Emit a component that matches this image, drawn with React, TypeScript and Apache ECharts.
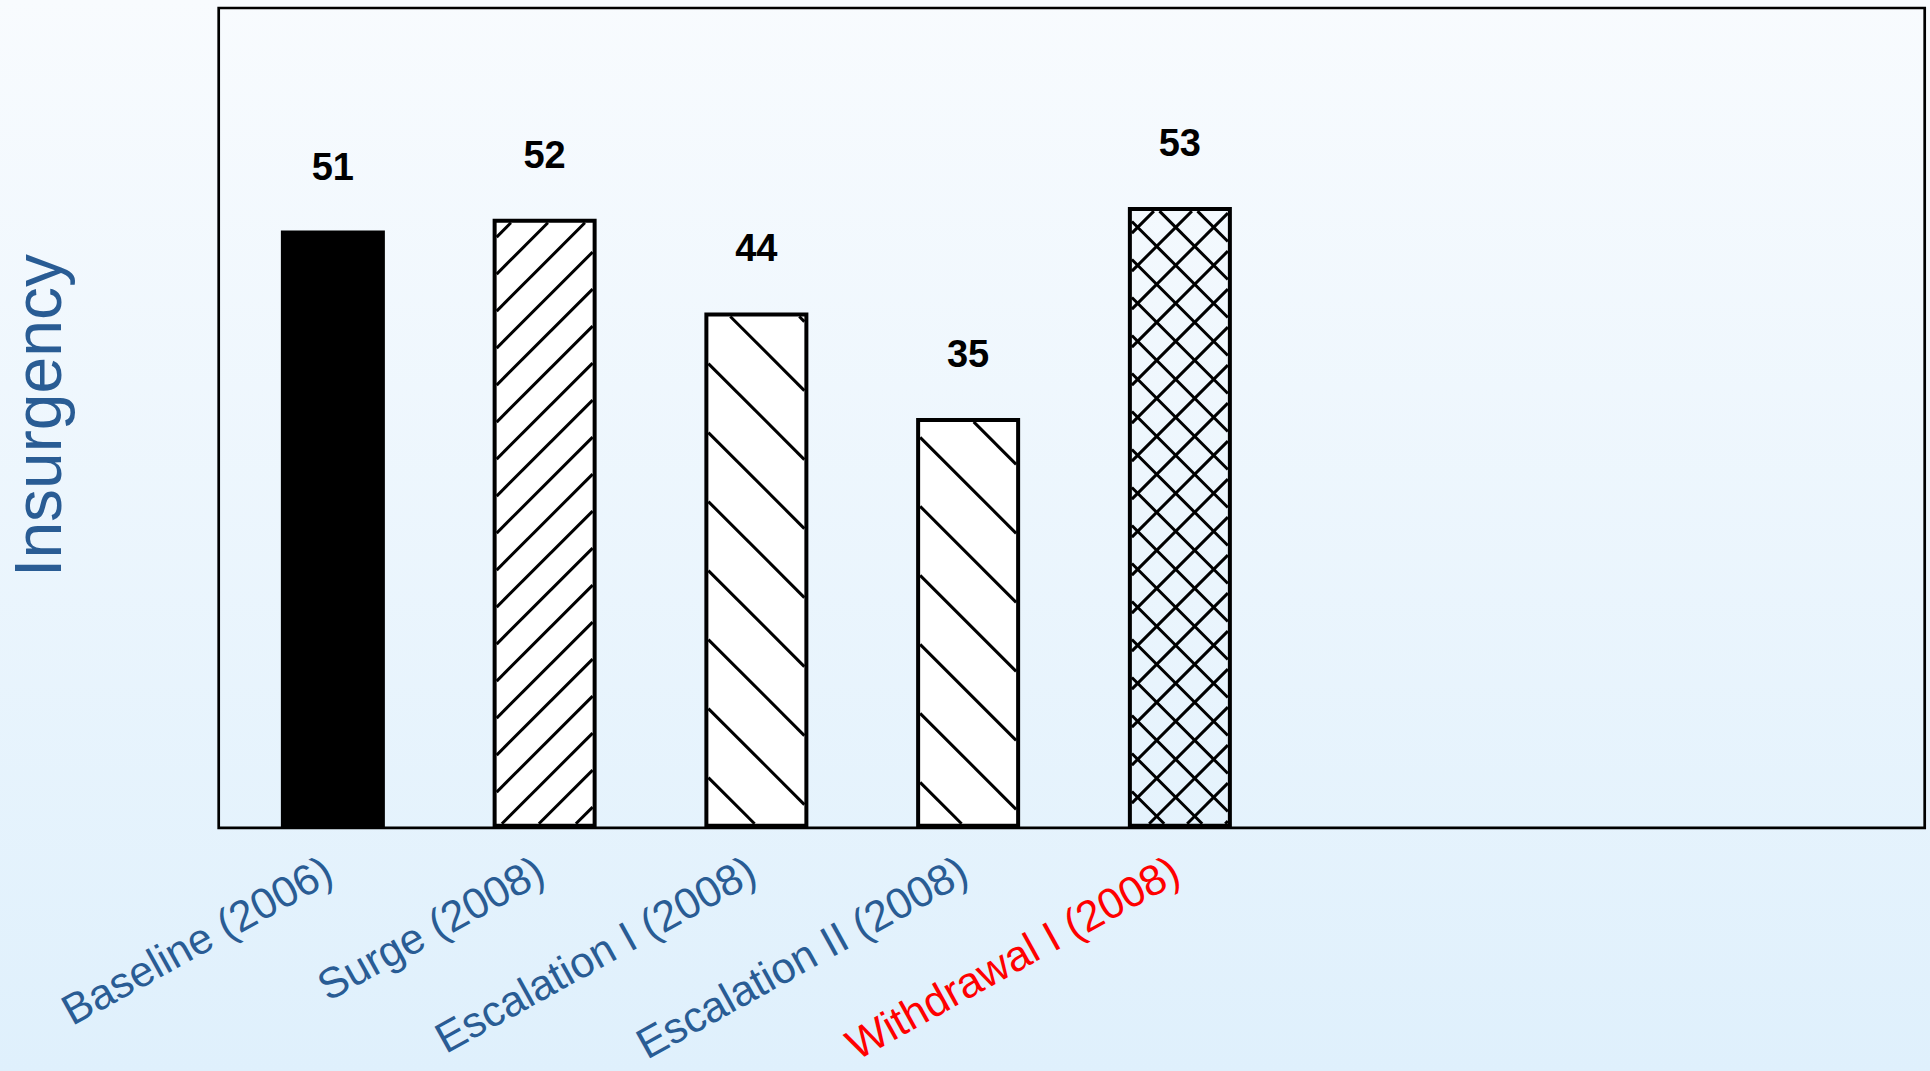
import React, { useEffect, useRef } from 'react';
import * as echarts from 'echarts';

// ---- data ----
const categories = [
  'Baseline (2006)',
  'Surge (2008)',
  'Escalation I (2008)',
  'Escalation II (2008)',
  'Withdrawal I (2008)',
  '',
  '',
  '',
];
const values = [51, 52, 44, 35, 53];
const labelColors = ['#295C94', '#295C94', '#295C94', '#295C94', '#FF0000', '#295C94', '#295C94', '#295C94'];
const barFills = ['#000000', '#FFFFFF', '#FFFFFF', '#FFFFFF', 'rgba(0,0,0,0)'];
const hatchKinds = ['none', 'fwd', 'back', 'back', 'cross'];
const yMin = 0;
const yMax = 70;
const yTitle = 'Insurgency';

// ---- styling ----
const BAR_W = 104;
const BORDER = 4;
const HATCH_W = 3;
const HATCH: Record<string, { p: number; c?: number; d?: number }> = {
  fwd: { p: 37, c: 770.7 },
  back: { p: 69, d: -344.8 },
  cross: { p: 38, c: 1555, d: -758.4 },
};
const FONT = '"Liberation Sans", Arial, Helvetica, sans-serif';

function renderHatch(params: any, api: any) {
  const i = api.value(0);
  const v = api.value(1);
  const kind = hatchKinds[i];
  if (!kind || kind === 'none') return { type: 'group', children: [] };
  const t = api.coord([i, v]);
  const b = api.coord([i, 0]);
  // ECharts insets the bar border inside the bar's outer box
  const x0 = t[0] - BAR_W / 2 + BORDER;
  const x1 = t[0] + BAR_W / 2 - BORDER;
  const y0 = t[1] + BORDER;
  const y1 = b[1] - BORDER;
  const cfg = HATCH[kind];
  const style = { stroke: '#000', lineWidth: HATCH_W, fill: null };
  const children: any[] = [];
  if (kind === 'fwd' || kind === 'cross') {
    // lines y = c - x
    const p = cfg.p;
    const c0 = cfg.c as number;
    let c = c0 + Math.floor((x0 + y0 - c0) / p) * p;
    for (; c <= x1 + y1 + p; c += p) {
      const xa = Math.max(x0, c - y1);
      const xb = Math.min(x1, c - y0);
      if (xb - xa > 0.5) {
        children.push({ type: 'line', shape: { x1: xa, y1: c - xa, x2: xb, y2: c - xb }, style });
      }
    }
  }
  if (kind === 'back' || kind === 'cross') {
    // lines y = x + d
    const p = cfg.p;
    const d0 = cfg.d as number;
    let d = d0 + Math.floor((y0 - x1 - d0) / p) * p;
    for (; d <= y1 - x0 + p; d += p) {
      const xa = Math.max(x0, y0 - d);
      const xb = Math.min(x1, y1 - d);
      if (xb - xa > 0.5) {
        children.push({ type: 'line', shape: { x1: xa, y1: xa + d, x2: xb, y2: xb + d }, style });
      }
    }
  }
  return { type: 'group', children };
}

export default function App() {
  const ref = useRef<HTMLDivElement>(null);
  useEffect(() => {
    if (!ref.current) return;
    const chart = echarts.init(ref.current, null, { renderer: 'svg' });
    chart.setOption({
      animation: false,
      backgroundColor: new echarts.graphic.LinearGradient(0, 0, 0, 1, [
        { offset: 0, color: '#F8FBFE' },
        { offset: 1, color: '#DFF0FC' },
      ]),
      grid: {
        left: 227,
        top: 8,
        width: 1694,
        height: 819.8,
        containLabel: false,
        outerBoundsMode: 'none',
      },
      xAxis: {
        type: 'category',
        data: categories,
        axisLine: { show: false },
        axisTick: { show: false },
        splitLine: { show: false },
        axisLabel: {
          interval: 0,
          rotate: 29,
          margin: 37,
          fontSize: 43,
          fontFamily: FONT,
          padding: [0, 5, 0, 0],
          color: (val: any, idx: number) => labelColors[idx],
        },
      },
      yAxis: {
        type: 'value',
        min: yMin,
        max: yMax,
        axisLine: { show: false },
        axisTick: { show: false },
        axisLabel: { show: false },
        splitLine: { show: false },
      },
      graphic: [
        {
          type: 'rect',
          z: 1,
          shape: { x: 218.7, y: 8, width: 1706, height: 819.8 },
          style: { fill: 'none', stroke: '#000', lineWidth: 2.7 },
        },
        {
          type: 'text',
          x: 38,
          y: 415.5,
          rotation: Math.PI / 2,
          style: {
            text: yTitle,
            font: `66px ${FONT}`,
            fill: '#295C94',
            textAlign: 'center',
            textVerticalAlign: 'middle',
            align: 'center',
            verticalAlign: 'middle',
          },
        },
      ],
      series: [
        {
          type: 'bar',
          barWidth: BAR_W,
          z: 2,
          data: values.map((v, i) => ({
            value: v,
            itemStyle: { color: barFills[i], borderColor: '#000', borderWidth: BORDER },
          })),
          label: {
            show: true,
            position: 'top',
            distance: 45,
            fontSize: 38,
            fontWeight: 'bold',
            fontFamily: FONT,
            color: '#000',
          },
        },
        {
          type: 'custom',
          z: 3,
          renderItem: renderHatch,
          data: values.map((v, i) => [i, v]),
          silent: true,
        },
      ],
    });
    return () => chart.dispose();
  }, []);
  return (
    <div
      ref={ref}
      style={{ position: 'fixed', left: 0, top: 0, width: 1930, height: 1071 }}
    />
  );
}
